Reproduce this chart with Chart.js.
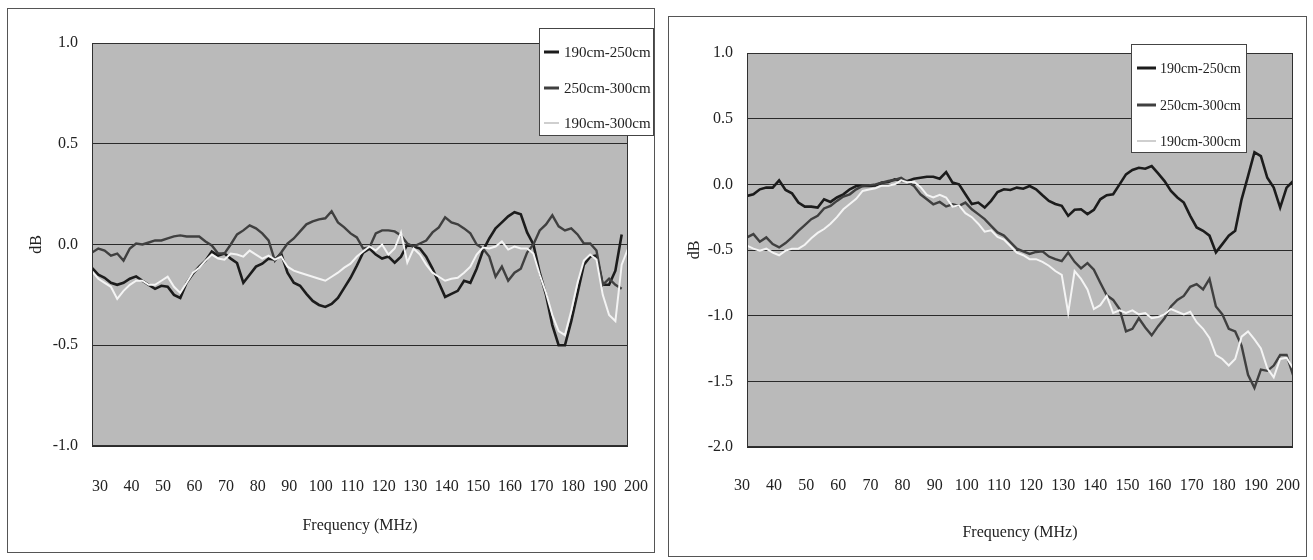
<!DOCTYPE html>
<html><head><meta charset="utf-8">
<script src="https://cdn.jsdelivr.net/npm/chart.js@4.4.1/dist/chart.umd.min.js"></script>
<style>
html,body{margin:0;padding:0;background:#fff;width:1313px;height:560px;overflow:hidden;}
canvas{position:absolute;}
#c1{left:7px;top:8px;}
#c2{left:668px;top:16px;}
</style></head><body>
<canvas id="c1" width="648" height="545"></canvas>
<canvas id="c2" width="639" height="541"></canvas>
<script>
// ---- data ----
const freq = [
  30,32,34,36,38,40,42,44,46,48,
  50,52,54,56,58,60,62,64,66,68,
  70,72,74,76,78,80,82,84,86,88,
  90,92,94,96,98,100,102,104,106,108,
  110,112,114,116,118,120,122,124,126,128,
  130,132,134,136,138,140,142,144,146,148,
  150,152,154,156,158,160,162,164,166,168,
  170,172,174,176,178,180,182,184,186,188,
  190,192,194,196,198,200];
const seriesNames = ['190cm-250cm','250cm-300cm','190cm-300cm'];
const xTickLabels = [30,40,50,60,70,80,90,100,110,120,130,140,150,160,170,180,190,200];
const leftYTicks = [-1.0,-0.5,0.0,0.5,1.0];
const rightYTicks = [-2.0,-1.5,-1.0,-0.5,0.0,0.5,1.0];

const left190_250 = [
  -0.116,-0.15,-0.165,-0.19,-0.2,-0.19,-0.17,-0.158,-0.18,-0.2,
  -0.22,-0.205,-0.21,-0.25,-0.265,-0.19,-0.145,-0.11,-0.08,-0.035,
  -0.055,-0.045,-0.07,-0.092,-0.19,-0.15,-0.11,-0.095,-0.07,-0.075,
  -0.045,-0.14,-0.19,-0.205,-0.245,-0.28,-0.3,-0.31,-0.295,-0.265,
  -0.215,-0.165,-0.105,-0.04,-0.02,-0.05,-0.07,-0.06,-0.09,-0.06,
  0.0,-0.01,-0.02,-0.06,-0.12,-0.19,-0.26,-0.245,-0.23,-0.18,
  -0.19,-0.12,-0.03,0.03,0.08,0.11,0.14,0.16,0.15,0.06,
  0.0,-0.14,-0.25,-0.4,-0.5,-0.5,-0.38,-0.24,-0.1,-0.06,
  -0.055,-0.2,-0.2,-0.13,0.05,null];
const left250_300 = [
  -0.04,-0.02,-0.03,-0.055,-0.045,-0.08,-0.02,0.005,0.0,0.01,
  0.02,0.02,0.03,0.04,0.045,0.04,0.04,0.04,0.015,-0.005,
  -0.045,-0.045,0.0,0.05,0.07,0.095,0.08,0.055,0.02,-0.08,
  -0.04,0.005,0.03,0.065,0.1,0.115,0.125,0.13,0.165,0.11,
  0.085,0.055,0.035,-0.02,-0.015,0.055,0.07,0.07,0.065,0.045,
  0.005,-0.01,0.005,0.02,0.06,0.085,0.135,0.11,0.1,0.08,
  0.055,0.0,-0.02,-0.06,-0.16,-0.11,-0.18,-0.14,-0.12,-0.04,
  0.0,0.07,0.1,0.145,0.09,0.07,0.08,0.05,0.005,0.005,
  -0.03,-0.2,-0.17,-0.2,-0.22,null];
const left190_300 = [
  -0.133,-0.17,-0.19,-0.21,-0.27,-0.23,-0.2,-0.18,-0.18,-0.2,
  -0.2,-0.18,-0.16,-0.21,-0.24,-0.19,-0.14,-0.115,-0.08,-0.05,
  -0.07,-0.075,-0.045,-0.05,-0.06,-0.03,-0.05,-0.07,-0.055,-0.075,
  -0.06,-0.11,-0.13,-0.14,-0.15,-0.16,-0.17,-0.18,-0.16,-0.14,
  -0.115,-0.095,-0.06,-0.035,-0.01,-0.03,0.0,-0.05,-0.02,0.06,
  -0.09,-0.02,-0.05,-0.1,-0.14,-0.16,-0.18,-0.17,-0.165,-0.14,
  -0.11,-0.05,-0.015,-0.02,-0.01,0.015,-0.025,-0.01,-0.02,-0.02,
  -0.045,-0.15,-0.24,-0.35,-0.43,-0.45,-0.33,-0.19,-0.08,-0.05,
  -0.075,-0.25,-0.35,-0.38,-0.1,-0.02];

const right190_250 = [
  -0.088,-0.076,-0.038,-0.025,-0.025,0.03,-0.043,-0.068,-0.139,-0.17,
  -0.17,-0.177,-0.114,-0.134,-0.1,-0.076,-0.038,-0.013,-0.013,-0.013,
  -0.008,0.013,0.018,0.038,0.025,0.025,0.043,0.05,0.058,0.058,
  0.043,0.093,0.013,0.0,-0.076,-0.15,-0.139,-0.177,-0.126,-0.058,
  -0.038,-0.043,-0.025,-0.033,-0.013,-0.038,-0.083,-0.126,-0.15,-0.164,
  -0.24,-0.194,-0.19,-0.227,-0.194,-0.114,-0.083,-0.076,0.0,0.076,
  0.109,0.126,0.119,0.139,0.083,0.025,-0.05,-0.1,-0.139,-0.24,
  -0.328,-0.354,-0.391,-0.518,-0.455,-0.391,-0.354,-0.114,0.063,0.245,
  0.215,0.05,-0.025,-0.177,-0.025,0.025];
const right250_300 = [
  -0.404,-0.379,-0.437,-0.404,-0.455,-0.48,-0.447,-0.404,-0.354,-0.31,
  -0.265,-0.24,-0.184,-0.164,-0.126,-0.093,-0.076,-0.038,-0.013,-0.008,
  0.0,0.013,0.025,0.033,0.05,0.018,-0.013,-0.076,-0.114,-0.152,
  -0.134,-0.169,-0.152,-0.164,-0.139,-0.19,-0.227,-0.265,-0.316,-0.366,
  -0.39,-0.44,-0.49,-0.51,-0.53,-0.515,-0.51,-0.55,-0.57,-0.585,
  -0.52,-0.59,-0.64,-0.6,-0.65,-0.75,-0.845,-0.88,-0.95,-1.12,
  -1.1,-1.02,-1.09,-1.15,-1.08,-1.02,-0.93,-0.88,-0.85,-0.78,
  -0.76,-0.8,-0.72,-0.93,-0.99,-1.1,-1.12,-1.23,-1.45,-1.55,
  -1.41,-1.42,-1.38,-1.3,-1.3,-1.45];
const right190_300 = [
  -0.467,-0.49,-0.505,-0.49,-0.52,-0.54,-0.505,-0.49,-0.49,-0.46,
  -0.41,-0.37,-0.34,-0.3,-0.25,-0.19,-0.15,-0.11,-0.05,-0.04,
  -0.03,-0.01,-0.01,0.0,0.03,0.015,0.02,-0.02,-0.08,-0.1,
  -0.08,-0.1,-0.17,-0.16,-0.22,-0.25,-0.3,-0.36,-0.35,-0.4,
  -0.42,-0.47,-0.52,-0.54,-0.57,-0.57,-0.59,-0.62,-0.66,-0.69,
  -0.98,-0.66,-0.72,-0.8,-0.95,-0.92,-0.85,-0.98,-0.96,-0.98,
  -0.96,-0.99,-0.98,-1.02,-1.01,-0.99,-0.95,-0.97,-0.99,-0.97,
  -1.05,-1.1,-1.17,-1.3,-1.33,-1.38,-1.33,-1.16,-1.12,-1.18,
  -1.25,-1.4,-1.47,-1.33,-1.32,-1.4];

// ---- styling ----
const SERIF = "'Liberation Serif','DejaVu Serif',serif";
const COLORS = ['#1c1c1c', '#404040', '#f4f4f4'];
const WIDTHS = [2.6, 2.4, 2];

const panelPlugin = {
  id: 'panel',
  beforeDraw(chart, args, o) {
    const {ctx, chartArea: a, width, height} = chart;
    ctx.save();
    ctx.fillStyle = '#fff';
    ctx.fillRect(0, 0, width, height);
    ctx.strokeStyle = '#555';
    ctx.lineWidth = 1;
    ctx.strokeRect(0.5, 0.5, width - 1, height - 1);
    ctx.fillStyle = o.bg;
    ctx.fillRect(a.left, a.top, a.right - a.left, a.bottom - a.top);
    ctx.restore();
  },
  afterDatasetsDraw(chart, args, o) {
    const {ctx, chartArea: a} = chart;
    ctx.save();
    ctx.strokeStyle = '#303030';
    ctx.lineWidth = 1;
    ctx.strokeRect(Math.round(a.left) + 0.5, Math.round(a.top) + 0.5,
                   Math.round(a.right - a.left) - 1, Math.round(a.bottom - a.top) - 1);
    ctx.restore();
  },
  afterDraw(chart, args, o) {
    const L = o.legend;
    const {ctx} = chart;
    ctx.save();
    ctx.fillStyle = '#fff';
    ctx.fillRect(L.x, L.y, L.w, L.h);
    ctx.strokeStyle = '#444';
    ctx.lineWidth = 1;
    ctx.strokeRect(L.x + 0.5, L.y + 0.5, L.w - 1, L.h - 1);
    ctx.font = L.fontSize + 'px ' + SERIF;
    ctx.textBaseline = 'middle';
    ctx.textAlign = 'left';
    chart.data.datasets.forEach((ds, i) => {
      const y = L.rows[i];
      ctx.strokeStyle = i === 2 ? '#cfcfcf' : ds.borderColor;
      ctx.lineWidth = i === 2 ? 2 : 3;
      ctx.beginPath();
      ctx.moveTo(L.sx1, y);
      ctx.lineTo(L.sx2, y);
      ctx.stroke();
      ctx.fillStyle = '#222';
      ctx.fillText(ds.label, L.tx, y + 1);
    });
    ctx.restore();
  }
};

function makeDatasets(arrs) {
  return arrs.map((vals, i) => ({
    label: seriesNames[i],
    data: freq.map((f, k) => ({x: f, y: vals[k]})),
    borderColor: COLORS[i],
    backgroundColor: COLORS[i],
    borderWidth: WIDTHS[i],
    pointRadius: 0,
    tension: 0,
    spanGaps: false,
    order: 3 - i
  }));
}

function makeChart(id, arrs, cfg) {
  return new Chart(document.getElementById(id), {
    type: 'line',
    data: {datasets: makeDatasets(arrs)},
    plugins: [panelPlugin],
    options: {
      responsive: false,
      animation: false,
      events: [],
      layout: {padding: cfg.padding},
      plugins: {
        legend: {display: false},
        tooltip: {enabled: false},
        panel: {bg: '#bababa', legend: cfg.legend}
      },
      scales: {
        x: {
          type: 'linear',
          min: 30, max: 200,
          afterBuildTicks: s => { s.ticks = xTickLabels.map(v => ({value: v})); },
          afterFit: s => { s.height = cfg.xHeight; s.paddingLeft = 0; s.paddingRight = 0; },
          grid: {display: false, drawTicks: false},
          border: {display: false},
          ticks: {
            autoSkip: false, maxRotation: 0, padding: cfg.xPad,
            labelOffset: cfg.labelOffset,
            color: '#222', font: {family: SERIF, size: 16},
            callback: v => String(v)
          },
          title: {
            display: true, text: 'Frequency (MHz)', color: '#222',
            font: {family: SERIF, size: 16},
            padding: {top: 0, bottom: cfg.xTitlePad}
          }
        },
        y: {
          min: cfg.yTicks[0], max: cfg.yTicks[cfg.yTicks.length - 1],
          afterBuildTicks: s => { s.ticks = cfg.yTicks.map(v => ({value: v})); },
          afterFit: s => { s.width = cfg.yWidth; s.paddingTop = 0; s.paddingBottom = 0; },
          grid: {color: '#2a2a2a', lineWidth: 1, drawTicks: false},
          border: {display: false},
          ticks: {
            padding: 14, color: '#222', font: {family: SERIF, size: 16},
            callback: v => Number(v).toFixed(1)
          },
          title: {
            display: true, text: 'dB', color: '#222',
            font: {family: SERIF, size: 16},
            padding: {top: cfg.yTitlePad, bottom: 0}
          }
        }
      }
    }
  });
}

makeChart('c1', [left190_250, left250_300, left190_300], {
  padding: {top: 35, right: 27, left: 0, bottom: 0},
  xHeight: 107, yWidth: 85, xPad: 31, xTitlePad: 18, yTitlePad: 20,
  labelOffset: 8, yTicks: leftYTicks,
  legend: {x: 532, y: 20, w: 115, h: 108, rows: [44, 80, 115], sx1: 537, sx2: 552, tx: 557, fontSize: 15}
});
makeChart('c2', [right190_250, right250_300, right190_300], {
  padding: {top: 37, right: 14, left: 0, bottom: 0},
  xHeight: 110, yWidth: 79, xPad: 29, xTitlePad: 15, yTitlePad: 17,
  labelOffset: -5, yTicks: rightYTicks,
  legend: {x: 463, y: 28, w: 116, h: 109, rows: [52, 89, 125], sx1: 469, sx2: 488, tx: 492, fontSize: 14}
});
</script>
</body></html>
